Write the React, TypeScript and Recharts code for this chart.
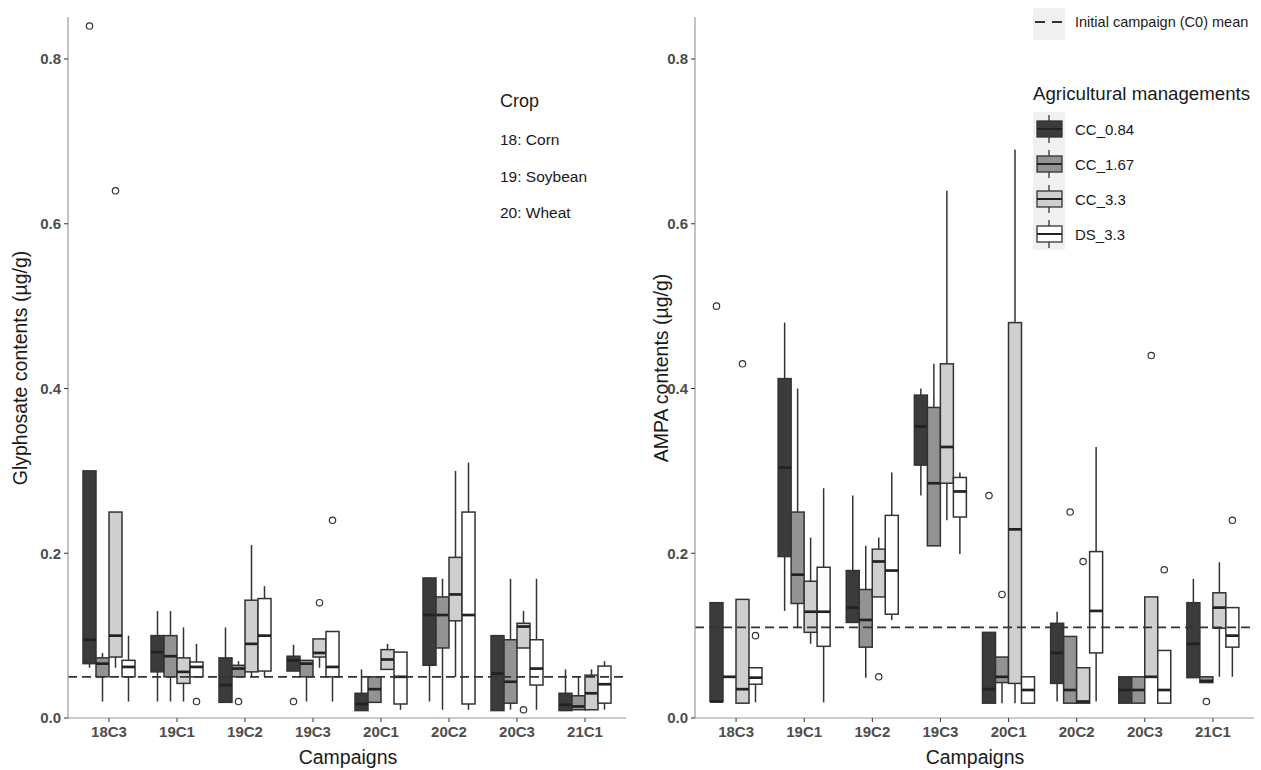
import { BarChart, Bar, XAxis, YAxis, ReferenceLine } from 'recharts'

const campaigns = ['18C3', '19C1', '19C2', '19C3', '20C1', '20C2', '20C3', '21C1']
const managements = ['CC_0.84', 'CC_1.67', 'CC_3.3', 'DS_3.3']
const fills = ['#3b3b3b', '#939393', '#cfcfcf', '#ffffff']
const yTicks = [0, 0.2, 0.4, 0.6, 0.8]

// each entry: [whisker low, Q1, median, Q3, whisker high]
const glyCC084 = [
  [0.061, 0.066, 0.095, 0.3, 0.3], [0.02, 0.056, 0.08, 0.1, 0.13], [0.019, 0.019, 0.04, 0.073, 0.11], [0.057, 0.057, 0.07, 0.075, 0.089],
  [0.009, 0.009, 0.017, 0.03, 0.059], [0.02, 0.064, 0.125, 0.17, 0.17], [0.009, 0.009, 0.054, 0.1, 0.1], [0.009, 0.009, 0.016, 0.03, 0.059],
]
const glyCC167 = [
  [0.02, 0.05, 0.066, 0.073, 0.079], [0.02, 0.05, 0.075, 0.1, 0.13], [0.05, 0.05, 0.06, 0.064, 0.069], [0.02, 0.05, 0.066, 0.07, 0.07],
  [0.019, 0.019, 0.035, 0.05, 0.05], [0.01, 0.085, 0.125, 0.147, 0.169], [0.01, 0.018, 0.044, 0.095, 0.169], [0.01, 0.01, 0.014, 0.027, 0.05],
]
const glyCC33 = [
  [0.061, 0.074, 0.1, 0.25, 0.25], [0.02, 0.042, 0.056, 0.073, 0.11], [0.05, 0.056, 0.09, 0.143, 0.21], [0.061, 0.074, 0.079, 0.096, 0.096],
  [0.059, 0.059, 0.071, 0.083, 0.09], [0.05, 0.118, 0.15, 0.195, 0.3], [0.085, 0.085, 0.111, 0.115, 0.13], [0.01, 0.01, 0.03, 0.052, 0.059],
]
const glyDS33 = [
  [0.02, 0.05, 0.062, 0.07, 0.1], [0.05, 0.05, 0.062, 0.068, 0.09], [0.05, 0.057, 0.1, 0.145, 0.16], [0.02, 0.05, 0.062, 0.105, 0.105],
  [0.01, 0.017, 0.05, 0.08, 0.08], [0.01, 0.017, 0.125, 0.25, 0.31], [0.01, 0.04, 0.06, 0.095, 0.169], [0.01, 0.018, 0.041, 0.063, 0.069],
]
const glyOutCC084 = [[0.84], [], [], [0.02], [], [], [], []]
const glyOutCC167 = [[], [], [0.02], [], [], [], [], []]
const glyOutCC33 = [[0.64], [], [], [0.14], [], [], [0.01], []]
const glyOutDS33 = [[], [0.02], [], [0.24], [], [], [], []]

const ampaCC084 = [
  [0.02, 0.02, 0.02, 0.14, 0.14], [0.13, 0.196, 0.304, 0.412, 0.48], [0.116, 0.116, 0.134, 0.179, 0.27], [0.27, 0.307, 0.354, 0.392, 0.4],
  [0.018, 0.018, 0.035, 0.104, 0.104], [0.02, 0.042, 0.079, 0.115, 0.129], [0.018, 0.018, 0.034, 0.05, 0.05], [0.049, 0.049, 0.09, 0.14, 0.169],
]
const ampaCC167 = [
  [0.05, 0.05, 0.05, 0.05, 0.05], [0.109, 0.139, 0.174, 0.25, 0.4], [0.049, 0.086, 0.119, 0.156, 0.209], [0.209, 0.209, 0.285, 0.377, 0.43],
  [0.018, 0.043, 0.05, 0.074, 0.074], [0.018, 0.018, 0.034, 0.099, 0.099], [0.018, 0.018, 0.034, 0.05, 0.05], [0.043, 0.043, 0.045, 0.05, 0.05],
]
const ampaCC33 = [
  [0.018, 0.018, 0.035, 0.144, 0.144], [0.09, 0.104, 0.129, 0.166, 0.219], [0.147, 0.147, 0.19, 0.205, 0.219], [0.24, 0.285, 0.329, 0.43, 0.64],
  [0.018, 0.042, 0.229, 0.48, 0.69], [0.018, 0.018, 0.02, 0.061, 0.061], [0.05, 0.05, 0.05, 0.147, 0.147], [0.05, 0.109, 0.134, 0.152, 0.189],
]
const ampaDS33 = [
  [0.019, 0.041, 0.049, 0.061, 0.061], [0.019, 0.087, 0.129, 0.183, 0.279], [0.119, 0.126, 0.179, 0.246, 0.298], [0.199, 0.244, 0.275, 0.292, 0.298],
  [0.018, 0.018, 0.034, 0.05, 0.05], [0.02, 0.079, 0.13, 0.202, 0.329], [0.018, 0.018, 0.034, 0.082, 0.082], [0.05, 0.086, 0.1, 0.134, 0.134],
]
const ampaOutCC084 = [[0.5], [], [], [], [0.27], [], [], []]
const ampaOutCC167 = [[], [], [], [], [0.15], [0.25], [], [0.02]]
const ampaOutCC33 = [[0.43], [], [0.05], [], [], [0.19], [0.44], []]
const ampaOutDS33 = [[0.1], [], [], [], [], [], [0.18], [0.24]]

const glyMean = 0.05
const ampaMean = 0.11

const FONT = '"Liberation Sans", Arial, Helvetica, sans-serif'
const INK = '#333333'

function buildRows(series: number[][][], outliers: number[][][]) {
  return campaigns.map((c, i) => ({
    campaign: c,
    stats: series.map((s) => s[i]),
    outs: outliers.map((o) => o[i]),
  }))
}

const glyRows = buildRows([glyCC084, glyCC167, glyCC33, glyDS33], [glyOutCC084, glyOutCC167, glyOutCC33, glyOutDS33])
const ampaRows = buildRows([ampaCC084, ampaCC167, ampaCC33, ampaDS33], [ampaOutCC084, ampaOutCC167, ampaOutCC33, ampaOutDS33])

// full extent of a box (whiskers + outliers) -> floating bar range
const extent = (row: any, k: number) => {
  const s = row.stats[k]
  const o = row.outs[k]
  return [Math.min(s[0], ...o), Math.max(s[4], ...o)]
}

/** Box drawn inside the floating bar; inner positions interpolated on the bar's own pixel span. */
function BoxGlyph(props: any) {
  const { x, y, width, height, payload, idx, fill } = props
  const [lo, q1, med, q3, hi] = payload.stats[idx]
  const [bottom, top] = extent(payload, idx)
  const py = (v: number) => (top === bottom ? y : y + (height * (top - v)) / (top - bottom))
  const cx = x + width / 2
  return (
    <g>
      {hi > q3 && <line x1={cx} x2={cx} y1={py(hi)} y2={py(q3)} stroke={INK} strokeWidth={1.5} />}
      {q1 > lo && <line x1={cx} x2={cx} y1={py(q1)} y2={py(lo)} stroke={INK} strokeWidth={1.5} />}
      <rect x={x} y={py(q3)} width={width} height={Math.max(py(q1) - py(q3), 0)} fill={fill} stroke={INK} strokeWidth={1.5} />
      <line x1={x} x2={x + width} y1={py(med)} y2={py(med)} stroke="#222" strokeWidth={2.7} />
      {payload.outs[idx].map((o: number, j: number) => (
        <circle key={j} cx={cx} cy={py(o)} r={3.2} fill="#fff" stroke={INK} strokeWidth={1.2} />
      ))}
    </g>
  )
}

const tickStyle = { fontFamily: FONT, fontWeight: 700, fontSize: 15, fill: '#4d4d4d' }

function Panel({ rows, mean, width, right }: { rows: any[]; mean: number; width: number; right: number }) {
  return (
    <BarChart
      width={width}
      height={770}
      data={rows}
      margin={{ top: 17, right, bottom: 22, left: 8 }}
      barCategoryGap={8}
      barGap={0}
    >
      <XAxis
        dataKey="campaign"
        padding={{ left: 7, right: 7 }}
        height={30}
        tick={tickStyle}
        tickSize={4}
        tickMargin={4}
        axisLine={{ stroke: '#9a9a9a', strokeWidth: 1.2 }}
        tickLine={{ stroke: INK }}
        interval={0}
      />
      <YAxis
        type="number"
        domain={[0, 0.851]}
        ticks={yTicks}
        tickFormatter={(v: number) => v.toFixed(1)}
        width={60}
        tick={tickStyle}
        tickSize={4}
        tickMargin={3}
        axisLine={{ stroke: '#9a9a9a', strokeWidth: 1.2 }}
        tickLine={{ stroke: INK }}
      />
      {managements.map((m, k) => (
        <Bar
          key={m}
          name={m}
          dataKey={(row: any) => extent(row, k)}
          fill={fills[k]}
          isAnimationActive={false}
          shape={(p: any) => <BoxGlyph {...p} idx={k} fill={fills[k]} />}
        />
      ))}
      <ReferenceLine y={mean} stroke={INK} strokeWidth={1.8} strokeDasharray="9 5" />
    </BarChart>
  )
}

export default function App() {
  const legendYs = [129, 164, 199, 234]
  return (
    <div style={{ position: 'absolute', left: 0, top: 0, width: 1261, height: 770, background: '#fff', fontFamily: FONT }}>
      <div style={{ position: 'absolute', left: 0, top: 0 }}>
        <Panel rows={glyRows} mean={glyMean} width={640} right={14} />
      </div>
      <div style={{ position: 'absolute', left: 627, top: 0 }}>
        <Panel rows={ampaRows} mean={ampaMean} width={634} right={7} />
      </div>

      {/* titles, crop note and legend */}
      <svg width={1261} height={770} style={{ position: 'absolute', left: 0, top: 0, pointerEvents: 'none' }} fontFamily={FONT}>
        <text x={20} y={368} transform="rotate(-90 20 368)" textAnchor="middle" dominantBaseline="central" fontSize={19.5} fill="#1a1a1a">
          Glyphosate contents (µg/g)
        </text>
        <text x={661} y={368} transform="rotate(-90 661 368)" textAnchor="middle" dominantBaseline="central" fontSize={19.5} fill="#1a1a1a">
          AMPA contents (µg/g)
        </text>
        <text x={348} y={757} textAnchor="middle" dominantBaseline="central" fontSize={19.5} fill="#1a1a1a">Campaigns</text>
        <text x={975} y={757} textAnchor="middle" dominantBaseline="central" fontSize={19.5} fill="#1a1a1a">Campaigns</text>

        <text x={500} y={101} dominantBaseline="central" fontSize={18} fill="#1a1a1a">Crop</text>
        <text x={500} y={139} dominantBaseline="central" fontSize={15.5} fill="#1a1a1a">18: Corn</text>
        <text x={500} y={176} dominantBaseline="central" fontSize={15.5} fill="#1a1a1a">19: Soybean</text>
        <text x={500} y={212} dominantBaseline="central" fontSize={15.5} fill="#1a1a1a">20: Wheat</text>

        <rect x={1033} y={8} width={32} height={32} fill="#f0f0f0" />
        <line x1={1035} x2={1062} y1={22} y2={22} stroke={INK} strokeWidth={2} strokeDasharray="10 7" />
        <text x={1075} y={22} dominantBaseline="central" fontSize={14.5} fill="#1a1a1a">Initial campaign (C0) mean</text>

        <text x={1033} y={93} dominantBaseline="central" fontSize={18.7} fill="#1a1a1a">Agricultural managements</text>
        <rect x={1033} y={112} width={32} height={138} fill="#f0f0f0" />
        {managements.map((m, k) => (
          <g key={m}>
            <line x1={1049} x2={1049} y1={legendYs[k] - 14} y2={legendYs[k] + 14} stroke={INK} strokeWidth={1.3} />
            <rect x={1037} y={legendYs[k] - 8} width={25} height={16} fill={fills[k]} stroke={INK} strokeWidth={1.3} />
            <line x1={1037} x2={1062} y1={legendYs[k]} y2={legendYs[k]} stroke="#222" strokeWidth={2} />
            <text x={1075} y={legendYs[k]} dominantBaseline="central" fontSize={15} fill="#1a1a1a">{m}</text>
          </g>
        ))}
      </svg>
    </div>
  )
}
